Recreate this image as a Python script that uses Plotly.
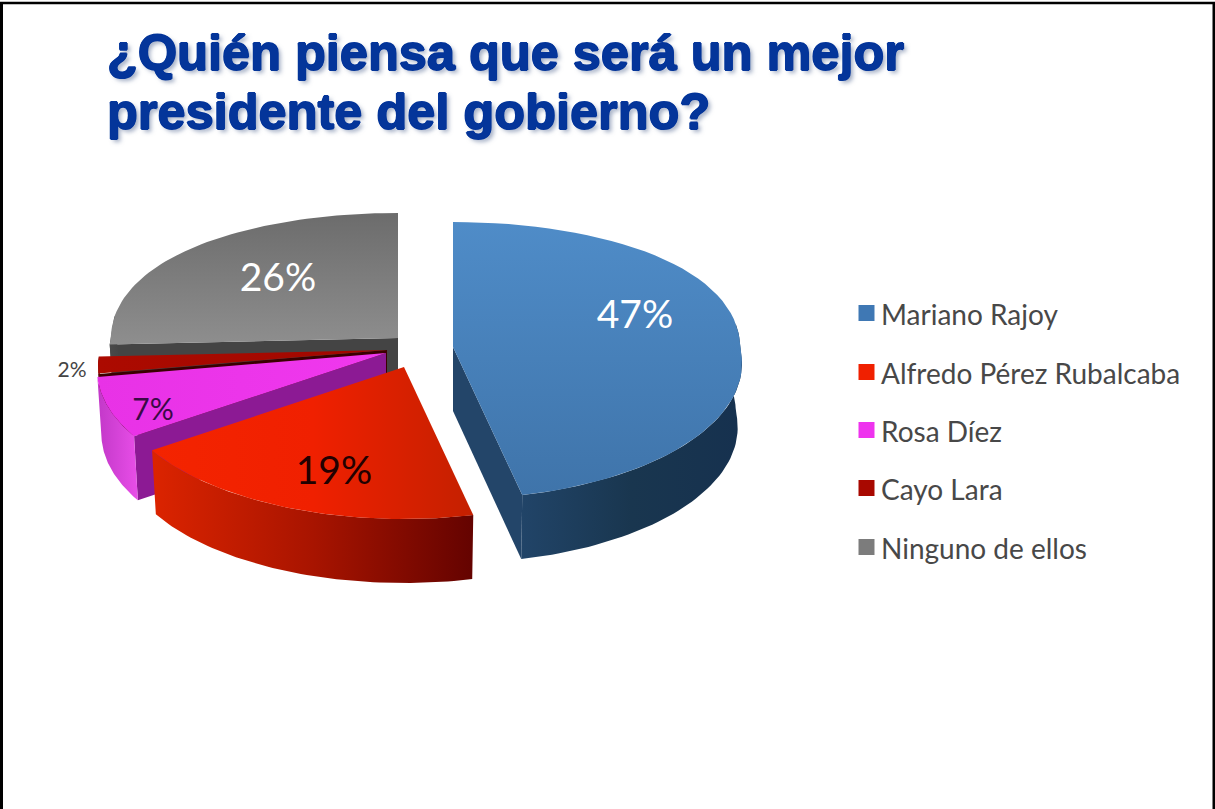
import math
import plotly.graph_objects as go

# Survey results, in drawing order round the pie (clockwise from 12 o'clock)
candidates = ["Mariano Rajoy", "Alfredo Pérez Rubalcaba", "Rosa Díez", "Cayo Lara", "Ninguno de ellos"]
shares = [47, 19, 7, 2, 26]
title_lines = ["¿Quién piensa que será un mejor", "presidente del gobierno?"]

# Pie geometry in page pixels
CENTRE = (415, 345)
EXPLODE = [(38, 2), (-11, 22), (-29, 8), (-28, 5), (-17, -7)]
RADIUS_X = 287
DEPTH = 64

# Styling for each wedge: top gradient, rim gradient (left to right), cut face colour
WEDGE_STYLE = [
    dict(top=("vertical", ["#3f74aa", "#4f8cc8"]), rim=["#214468", "#19364f", "#16314f"], face="#234569"),
    dict(top=("horizontal", ["#f42400", "#f02000", "#c42000"]), rim=["#dc2400", "#a81400", "#640300"], face="#7a0a00"),
    dict(top=("horizontal", ["#e832e6", "#f038ee"]), rim=["#c238c8", "#e84ee8"], face="#8c1a94"),
    dict(top=("horizontal", ["#ac0a00", "#a00800"]), rim=["#5a0000", "#5a0000"], face="#3a0000"),
    dict(top=("vertical", ["#8e8e8e", "#6c6c6c"]), rim=["#4a4a4a", "#444444"], face="#444444"),
]
LABEL_STYLE = [
    dict(pos=(635, 318), size=39, color="#ffffff"),
    dict(pos=(334, 474), size=39, color="#220000"),
    dict(pos=(153, 412), size=30, color="#3a0a46"),
    dict(pos=(72, 372), size=21, color="#444444"),
    dict(pos=(278, 281), size=39, color="#ffffff"),
]
LEGEND_COLORS = ["#3f78b4", "#f02000", "#ee33ee", "#a80800", "#7c7c7c"]
LEGEND_ROWS = [313, 372, 430, 488, 547]


def project(apex, theta):
    """Map a rim angle (degrees clockwise from top) to page pixels with foreshortening."""
    t = math.radians(theta)
    near = -math.cos(t)
    return (
        apex[0] + RADIUS_X * math.sin(t) * (1 + 0.12 * max(near, 0)),
        apex[1] + 138.5 * near + 13.5 * near * near,
    )


def lowered(apex, point):
    """The matching point on the bottom face of the wedge."""
    return (apex[0] + (point[0] - apex[0]) * 0.985, point[1] + DEPTH)


def steps(a, b, n=60):
    return [a + (b - a) * i / n for i in range(n + 1)]


def gradient(kind, colors):
    last = len(colors) - 1
    return dict(type=kind, colorscale=[[i / last, c] for i, c in enumerate(colors)])


def polygon(points, fillgradient=None, color=None):
    xs = [p[0] for p in points] + [points[0][0]]
    ys = [p[1] for p in points] + [points[0][1]]
    kw = dict(fillgradient=fillgradient) if fillgradient else dict(fillcolor=color)
    return go.Scatter(x=xs, y=ys, mode="lines", fill="toself", line=dict(width=0),
                      hoverinfo="skip", showlegend=False, **kw)


total = sum(shares)
edges = [0]
for s in shares:
    edges.append(edges[-1] + 360 * s / total)

fig = go.Figure()

# Paint back to front so nearer wedges cover what lies behind them
for i in [4, 3, 2, 1, 0]:
    start, end = edges[i], edges[i + 1]
    style = WEDGE_STYLE[i]
    apex = (CENTRE[0] + EXPLODE[i][0], CENTRE[1] + EXPLODE[i][1])
    bottom_apex = lowered(apex, apex)

    # Cut faces that turn towards the viewer
    for angle, sense in ((start, -1), (end, 1)):
        downward = sense * math.sin(math.radians(angle))
        if downward > 0.05:
            rim = project(apex, angle)
            fig.add_trace(polygon([apex, rim, lowered(apex, rim), bottom_apex], color=style["face"]))

    # Outer wall, only on the near half of the pie
    lo, hi = max(start, 80), min(end, 280)
    if lo < hi:
        top_edge = [project(apex, a) for a in steps(lo, hi)]
        low_edge = [lowered(apex, p) for p in reversed(top_edge)]
        fig.add_trace(polygon(top_edge + low_edge, fillgradient=gradient("horizontal", style["rim"])))

    # Top surface
    top = [apex] + [project(apex, a) for a in steps(start, end)]
    fig.add_trace(polygon(top, fillgradient=gradient(*style["top"])))

# Percentage labels
for value, st in zip(shares, LABEL_STYLE):
    fig.add_trace(go.Scatter(x=[st["pos"][0]], y=[st["pos"][1]], mode="text", text=[f"{value}%"],
                             textposition="middle center",
                             textfont=dict(family="Lato", size=st["size"], color=st["color"]),
                             hoverinfo="skip", showlegend=False))

# Legend rows
fig.add_trace(go.Scatter(x=[866.5] * len(candidates), y=LEGEND_ROWS, mode="markers",
                         marker=dict(symbol="square", size=16, color=LEGEND_COLORS, line=dict(width=0)),
                         hoverinfo="skip", showlegend=False))
fig.add_trace(go.Scatter(x=[881] * len(candidates), y=[r + 5 for r in LEGEND_ROWS], mode="text", text=candidates,
                         textposition="middle right",
                         textfont=dict(family="Lato", size=28, color="#484848"),
                         hoverinfo="skip", showlegend=False))

# Two-line heading, placed line by line; the tight shadows thicken the strokes
INK = "#04359a"
title_font = dict(
    family="Liberation Sans", size=50.5, color=INK, weight="bold",
    shadow=f"0.8px 0 0 {INK}, -0.8px 0 0 {INK}, 0 0.8px 0 {INK}, 0 -0.8px 0 {INK}, "
           "3px 3px 4px rgba(90,110,150,0.55)",
)
fig.update_layout(
    width=1215, height=809,
    margin=dict(l=0, r=0, t=0, b=0),
    paper_bgcolor="white", plot_bgcolor="white",
    showlegend=False,
    annotations=[
        dict(text=line, x=105, y=row, xref="x", yref="y", xanchor="left", yanchor="middle",
             showarrow=False, font=title_font)
        for line, row in zip(title_lines, (52, 111))
    ],
    xaxis=dict(range=[0, 1215], visible=False, fixedrange=True),
    yaxis=dict(range=[809, 0], visible=False, fixedrange=True),
    shapes=[
        dict(type="line", x0=1.5, x1=1.5, y0=2, y1=809, line=dict(color="black", width=3)),
        dict(type="line", x0=0, x1=1215, y0=3, y1=3, line=dict(color="black", width=2.5)),
        dict(type="line", x0=1214, x1=1214, y0=2, y1=809, line=dict(color="black", width=3)),
    ],
)

fig.write_html("out.html")
